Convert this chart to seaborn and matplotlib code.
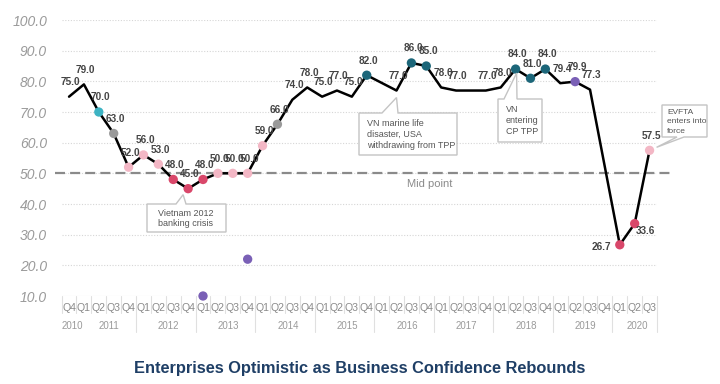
import numpy as np
import pandas as pd
import matplotlib.pyplot as plt
import matplotlib.transforms as mtransforms
from matplotlib.patches import Polygon
import seaborn as sns

# Business confidence index, quarterly Q4 2010 .. Q3 2020
quarters = ['Q4'] + ['Q1', 'Q2', 'Q3', 'Q4'] * 9 + ['Q1', 'Q2', 'Q3']
year_of = ['2010'] + [str(y) for y in range(2011, 2020) for _ in range(4)] + ['2020'] * 3
values = [75.0, 79.0, 70.0, 63.0, 52.0, 56.0, 53.0, 48.0, 45.0, 48.0,
          50.0, 50.0, 50.0, 59.0, 66.0, 74.0, 78.0, 75.0, 77.0, 75.0,
          82.0, np.nan, 77.0, 86.0, 85.0, 78.0, 77.0, 77.0, 77.0, 78.0,
          84.0, 81.0, 84.0, 79.4, 79.9, 77.3, np.nan, 26.7, 33.6, 57.5]
marker_group = ['', '', 'teal', 'grey', 'pink', 'pink', 'pink', 'red', 'red', 'red',
                'pink', 'pink', 'pink', 'pink', 'grey', '', '', '', '', '',
                'dteal', '', '', 'dteal', 'dteal', '', '', '', '', '',
                'dteal', 'dteal', 'dteal', '', 'purple', '', '', 'red', 'red', 'pink']
unlabeled = [27]

# stray points
stray_x = [9, 12]
stray_y = [10.0, 22.0]

palette = {'teal': '#3db3c3', 'grey': '#9a9a9a', 'pink': '#f3b7c5',
           'red': '#d9476a', 'dteal': '#1c6679', 'purple': '#7a60b6'}

df = pd.DataFrame({'idx': range(len(values)), 'quarter': quarters,
                   'year': year_of, 'value': values, 'group': marker_group})

sns.set_theme(style='white')
plt.rcParams['font.family'] = ['Liberation Sans', 'DejaVu Sans']

W, H = 720, 384
fig = plt.figure(figsize=(W / 100, H / 100), dpi=100)
ax = fig.add_axes([61.6 / W, 88 / H, 595.4 / W, 276 / H])

# line (missing quarters are bridged)
line_df = df.dropna(subset=['value'])
sns.lineplot(data=line_df, x='idx', y='value', color='black', lw=1.8,
             estimator=None, ax=ax, zorder=2)

mk = df[df['group'] != '']
sns.scatterplot(data=mk, x='idx', y='value', hue='group', palette=palette,
                s=45, edgecolor='none', legend=False, ax=ax, zorder=3, clip_on=False)
sns.scatterplot(x=stray_x, y=stray_y, color=palette['purple'], s=45,
                edgecolor='none', legend=False, ax=ax, zorder=3, clip_on=False)

ax.set_xlim(-0.5, 39.5)
ax.set_ylim(10, 100)
yt = list(range(10, 101, 10))
ax.set_yticks(yt)
ax.set_yticklabels([f'{v:.1f}' for v in yt])
ax.set_xticks([])
ax.set_xlabel('')
ax.set_ylabel('')
for s in ax.spines.values():
    s.set_visible(False)
ax.tick_params(axis='y', length=0, pad=10.5, labelsize=10, labelcolor='#9a9a9a')
for lbl in ax.get_yticklabels():
    lbl.set_style('italic')

for y in yt[1:]:
    ax.axhline(y, color='#d6d6d6', lw=0.8, ls=(0, (1, 1.5)), zorder=0)
ax.axhline(10, color='#dddddd', lw=0.8, zorder=0)

# mid point
ax.axhline(50, xmin=-0.011, xmax=1.022, color='#8a8a8a', lw=1.6,
           dashes=(4.5, 2.3), clip_on=False, zorder=1)
ax.text(24.2, 46.6, 'Mid point', ha='center', va='center', fontsize=8, color='#8a8a8a')

# value labels
for i, v in enumerate(values):
    if np.isnan(v) or i in unlabeled:
        continue
    txt = f'{v:.1f}'
    if i == 37:
        ax.annotate(txt, (i, v), xytext=(-6, -1.5), textcoords='offset points',
                    ha='right', va='center', fontsize=7.2, weight='bold', color='#444444')
    elif i == 38:
        ax.annotate(txt, (i, v), xytext=(1, -5.5), textcoords='offset points',
                    ha='left', va='center', fontsize=7.2, weight='bold', color='#444444')
    else:
        ax.annotate(txt, (i, v), xytext=(1.3, 10.5), textcoords='offset points',
                    ha='center', va='center', fontsize=7.2, weight='bold', color='#444444')

# category axis (quarters + years)
trans = mtransforms.blended_transform_factory(ax.transData, ax.transAxes)
year_change = [i + 0.5 for i in range(len(year_of) - 1) if year_of[i] != year_of[i + 1]][1:]
for b in np.arange(-0.5, len(values), 1.0):
    bottom = -0.130 if (b in year_change or b == len(values) - 0.5) else -0.0616
    ax.plot([b, b], [0, bottom], color='#e0e0e0', lw=0.8, transform=trans, clip_on=False)
for i, q in enumerate(quarters):
    ax.text(i, -0.042, q, transform=trans, ha='center', va='center',
            fontsize=7.6, color='#8a8a8a')
year_pos = df.groupby('year')['idx'].mean()
for yr, pos in year_pos.items():
    ax.text(pos + 0.2, -0.1076, yr, transform=trans, ha='center', va='center',
            fontsize=7, color='#9a9a9a')

# callouts (figure pixel coords, origin top-left)
px = mtransforms.Affine2D().scale(1 / W, -1 / H).translate(0, 1) + fig.transFigure


def data_px(i, v):
    x, y = ax.transData.transform((i, v))
    return x, H - y


def callout(box, base, tip, edge, lines, tx, ty, step, size):
    x0, y0, x1, y1 = box
    if edge == 'top':
        pts = [(x0, y0), (base[0], y0), tip, (base[1], y0), (x1, y0), (x1, y1), (x0, y1)]
    else:
        pts = [(x0, y0), (x1, y0), (x1, y1), (base[1], y1), tip, (base[0], y1), (x0, y1)]
    fig.add_artist(Polygon(pts, closed=True, transform=px, fc='white',
                           ec='#c4c4c4', lw=1, zorder=5))
    for k, line in enumerate(lines):
        fig.text(tx / W, 1 - (ty + k * step) / H, line, ha='left', va='center',
                 fontsize=size, color='#555555', zorder=6)


tx_, ty_ = data_px(8, 45.0)
callout((147, 204, 226, 232), (176, 186), (tx_ - 5, ty_ + 6), 'top',
        ['Vietnam 2012', 'banking crisis'], 158, 213, 11, 6.5)
tx_, ty_ = data_px(22, 77.0)
callout((359, 113, 457, 155), (382, 398), (tx_, ty_ + 7), 'top',
        ['VN marine life', 'disaster, USA', 'withdrawing from TPP'], 367, 124, 10.8, 6.5)
tx_, ty_ = data_px(30, 84.0)
callout((498, 99, 542, 142), (504, 517), (tx_ + 1, ty_ + 4), 'top',
        ['VN', 'entering', 'CP TPP'], 506, 110, 10.8, 6.5)
tx_, ty_ = data_px(39, 57.5)
callout((662, 105, 707, 137), (677, 684), (tx_ + 7, ty_ - 3), 'bottom',
        ['EVFTA', 'enters into', 'force'], 667, 112, 9.6, 6)

fig.text(0.5, 1 - 369 / H, 'Enterprises Optimistic as Business Confidence Rebounds',
         ha='center', va='center', fontsize=11.8, weight='bold', color='#1f3f66')

fig.savefig('out.png', dpi=100, facecolor='white')
